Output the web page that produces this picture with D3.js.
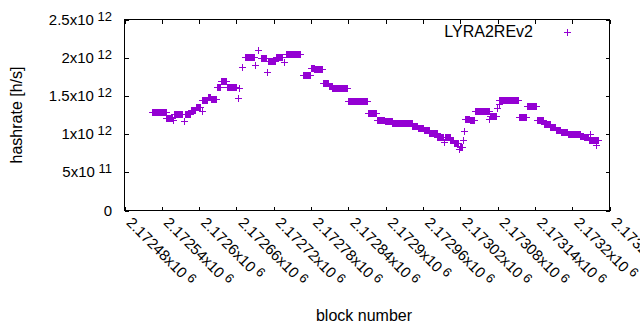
<!DOCTYPE html>
<html>
<head>
<meta charset="utf-8">
<script src="https://cdn.jsdelivr.net/npm/d3@7"></script>
<style>
  body { margin: 0; background: #fff; }
  svg { display: block; font-family: "Liberation Sans", Arial, sans-serif; }
</style>
</head>
<body>
<svg id="chart" width="640" height="330"></svg>
<script>
// Hashrate runs: blocks from runStart to runEnd share the same estimate
const runStart = [2172525, 2172547, 2172558, 2172559, 2172575, 2172577, 2172587, 2172595, 2172604, 2172605,
                  2172614, 2172619, 2172628, 2172635, 2172645, 2172662, 2172664, 2172669, 2172673, 2172690,
                  2172695, 2172699, 2172709, 2172710, 2172723, 2172736, 2172739, 2172767, 2172780, 2172785,
                  2172799, 2172809, 2172814, 2172839, 2172871, 2172886, 2172899, 2172911, 2172943, 2172952,
                  2172961, 2172970, 2172983, 2172994, 2172995, 2173004, 2173010, 2173018, 2173019, 2173024,
                  2173026, 2173027, 2173035, 2173044, 2173067, 2173068, 2173079, 2173082, 2173083, 2173114,
                  2173127, 2173143, 2173154, 2173165, 2173174, 2173182, 2173193, 2173213, 2173219, 2173227,
                  2173229, 2173238];
const runEnd   = [2172546, 2172557, 2172558, 2172573, 2172575, 2172586, 2172594, 2172601, 2172604, 2172613,
                  2172618, 2172627, 2172634, 2172644, 2172660, 2172662, 2172664, 2172669, 2172688, 2172690,
                  2172695, 2172707, 2172709, 2172722, 2172734, 2172736, 2172763, 2172779, 2172784, 2172798,
                  2172808, 2172813, 2172838, 2172870, 2172885, 2172898, 2172910, 2172942, 2172951, 2172960,
                  2172969, 2172982, 2172993, 2172994, 2173003, 2173009, 2173017, 2173018, 2173023, 2173024,
                  2173026, 2173034, 2173042, 2173066, 2173067, 2173077, 2173079, 2173082, 2173113, 2173126,
                  2173141, 2173153, 2173164, 2173173, 2173181, 2173192, 2173212, 2173218, 2173226, 2173242,
                  2173229, 2173238];
const runRate  = [1.285, 1.215, 1.185, 1.259, 1.172, 1.269, 1.315, 1.354, 1.302, 1.445,
                  1.480, 1.462, 1.611, 1.689, 1.611, 1.467, 1.605, 1.879, 2.014, 1.901,
                  2.096, 2.001, 1.814, 1.957, 2.009, 1.944, 2.053, 1.780, 1.862, 1.846,
                  1.663, 1.628, 1.598, 1.432, 1.272, 1.191, 1.176, 1.142, 1.103, 1.077,
                  1.051, 1.012, 0.967, 0.902, 0.964, 0.924, 0.889, 0.803, 0.837, 0.918,
                  1.035, 1.204, 1.181, 1.306, 1.194, 1.240, 1.337, 1.393, 1.441, 1.228,
                  1.363, 1.181, 1.137, 1.098, 1.055, 1.029, 1.007, 0.973, 0.964, 0.924,
                  1.003, 0.862].map(v => v * 1e12);

const xTicks = [2172480, 2172540, 2172600, 2172660, 2172720, 2172780, 2172840,
                2172900, 2172960, 2173020, 2173080, 2173140, 2173200, 2173260];
const yTicks = [0, 5e11, 1e12, 1.5e12, 2e12, 2.5e12];
const seriesName = "LYRA2REv2";
const color = "#9400d3";

const svg = d3.select("#chart");
const pLeft = 124.5, pRight = 609.5, pTop = 19.5, pBottom = 210.5;

const x = d3.scaleLinear().domain([2172480, 2173260]).range([pLeft, pRight]);
const y = d3.scaleLinear().domain([0, 2.5e12]).range([pBottom, pTop]);

// split a value into gnuplot style mantissa / exponent
function sci(v) {
  if (v === 0) return ["0", ""];
  const e = Math.floor(Math.log10(v));
  const m = +(v / Math.pow(10, e)).toFixed(5);
  return [m + "x10", String(e)];
}

// tick marks, inward, mirrored on all four sides
const tickLen = 4;
svg.append("g").attr("transform", `translate(0,${pBottom})`)
  .call(d3.axisBottom(x).tickValues(xTicks).tickSize(-tickLen).tickFormat(""));
svg.append("g").attr("transform", `translate(0,${pTop})`)
  .call(d3.axisTop(x).tickValues(xTicks).tickSize(-tickLen).tickFormat(""));
svg.append("g").attr("transform", `translate(${pLeft},0)`)
  .call(d3.axisLeft(y).tickValues(yTicks).tickSize(-tickLen).tickFormat(""));
svg.append("g").attr("transform", `translate(${pRight},0)`)
  .call(d3.axisRight(y).tickValues(yTicks).tickSize(-tickLen).tickFormat(""));
svg.selectAll(".domain").remove();
svg.selectAll(".tick line").attr("stroke", "#000").attr("shape-rendering", "crispEdges");

svg.append("rect")
  .attr("x", pLeft).attr("y", pTop)
  .attr("width", pRight - pLeft).attr("height", pBottom - pTop)
  .attr("fill", "none").attr("stroke", "#000").attr("shape-rendering", "crispEdges");

// y tick labels
yTicks.forEach(v => {
  const [m, e] = sci(v);
  const t = svg.append("text")
    .attr("x", 112).attr("y", y(v) + 5)
    .attr("text-anchor", "end")
    .style("font-size", "15px").attr("fill", "#000");
  t.append("tspan").text(m);
  if (e) {
    t.append("tspan").text("\u00a0").style("font-size", "13px");
    t.append("tspan").text(e).attr("dy", -4).style("font-size", "13px");
  }
});

// x tick labels, rotated by -45 (gnuplot sense)
xTicks.forEach(v => {
  const [m, e] = sci(v);
  const t = svg.append("text")
    .attr("transform", `translate(${x(v) + 1},${pBottom + 13}) rotate(45)`)
    .style("font-size", "15px").attr("fill", "#000");
  t.append("tspan").text(m);
  t.append("tspan").text("\u00a0").style("font-size", "13px");
  t.append("tspan").text(e).attr("dy", -4).style("font-size", "13px");
});

// axis titles
svg.append("text")
  .attr("transform", "translate(22,115) rotate(-90)")
  .attr("text-anchor", "middle")
  .style("font-size", "16px").text("hashrate [h/s]");
svg.append("text")
  .attr("x", 364).attr("y", 321)
  .attr("text-anchor", "middle")
  .style("font-size", "16px").text("block number");

// points
const points = [];
runStart.forEach((s, i) => {
  d3.range(s, runEnd[i] + 1).forEach(b => points.push({ block: b, rate: runRate[i] }));
});

const cross = (cx, cy) => {
  const px = Math.round(cx) + 0.5, py = Math.round(cy) + 0.5;
  return `M${px - 3.5},${py}H${px + 3.5}M${px},${py - 3.5}V${py + 3.5}`;
};

svg.append("g")
  .selectAll("path")
  .data(points)
  .enter().append("path")
  .attr("d", d => cross(x(d.block), y(d.rate)))
  .attr("stroke", color)
  .attr("stroke-width", 1)
  .attr("fill", "none")
  .attr("shape-rendering", "crispEdges");

// legend
svg.append("text")
  .attr("x", 533).attr("y", 37)
  .attr("text-anchor", "end")
  .style("font-size", "16px").text(seriesName);
svg.append("path")
  .attr("d", cross(567, 32))
  .attr("stroke", color).attr("fill", "none")
  .attr("shape-rendering", "crispEdges");
</script>
</body>
</html>
